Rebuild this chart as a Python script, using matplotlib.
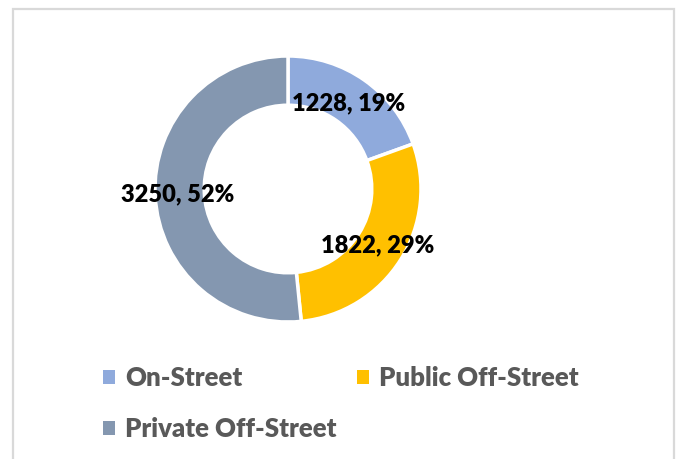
import matplotlib
matplotlib.use("Agg")
import numpy as np
import matplotlib.pyplot as plt
from matplotlib.patches import Rectangle

categories = ["On-Street", "Public Off-Street", "Private Off-Street"]
values = [1228, 1822, 3250]
colors = ["#8faadc", "#ffc000", "#8497b0"]
label_radius = [0.79, 0.80, 0.83]

plt.rcParams['font.family'] = ['Lato', 'DejaVu Sans']

W, H = 678, 459
fig = plt.figure(figsize=(W / 100, H / 100), dpi=100)

# light gray frame like the Excel chart area
fig.patches.append(Rectangle((13 / W, -0.05), (674 - 13) / W, (H - 9) / H + 0.05,
                             transform=fig.transFigure, fill=False,
                             edgecolor="#d9d9d9", linewidth=1.6))

cx, cy, r = 288, 189, 133
ax = fig.add_axes([(cx - r) / W, (H - cy - r) / H, 2 * r / W, 2 * r / H])
wedges, _ = ax.pie(values, colors=colors, startangle=90, counterclock=False,
                   radius=1.0, wedgeprops=dict(width=0.37, edgecolor="white", linewidth=2.5))
ax.set_xlim(-1, 1)
ax.set_ylim(-1, 1)
ax.set_aspect("equal")
ax.axis("off")

total = sum(values)
for w, v, lr in zip(wedges, values, label_radius):
    ang = np.deg2rad((w.theta1 + w.theta2) / 2)
    ax.text(lr * np.cos(ang), lr * np.sin(ang), f"{v}, {round(100 * v / total)}%",
            ha="center", va="center", fontsize=17, fontweight="heavy", color="black")

# two legends so the columns sit where Excel put them
leg_kw = dict(loc="upper left", frameon=False, prop=dict(weight="heavy", size=18.5),
              handlelength=0.47, handleheight=0.47, handletextpad=0.4,
              labelspacing=1.05, borderpad=0, borderaxespad=0)
leg1 = fig.legend([wedges[0], wedges[2]], [categories[0], categories[2]],
                  bbox_to_anchor=(103 / W, 1 - 366 / H), **leg_kw)
leg2 = fig.legend([wedges[1]], [categories[1]],
                  bbox_to_anchor=(357 / W, 1 - 366 / H), **leg_kw)
for leg in (leg1, leg2):
    for t in leg.get_texts():
        t.set_color("#595959")
    for h in leg.legend_handles:
        h.set_edgecolor("none")

fig.savefig("out.png", dpi=100)
